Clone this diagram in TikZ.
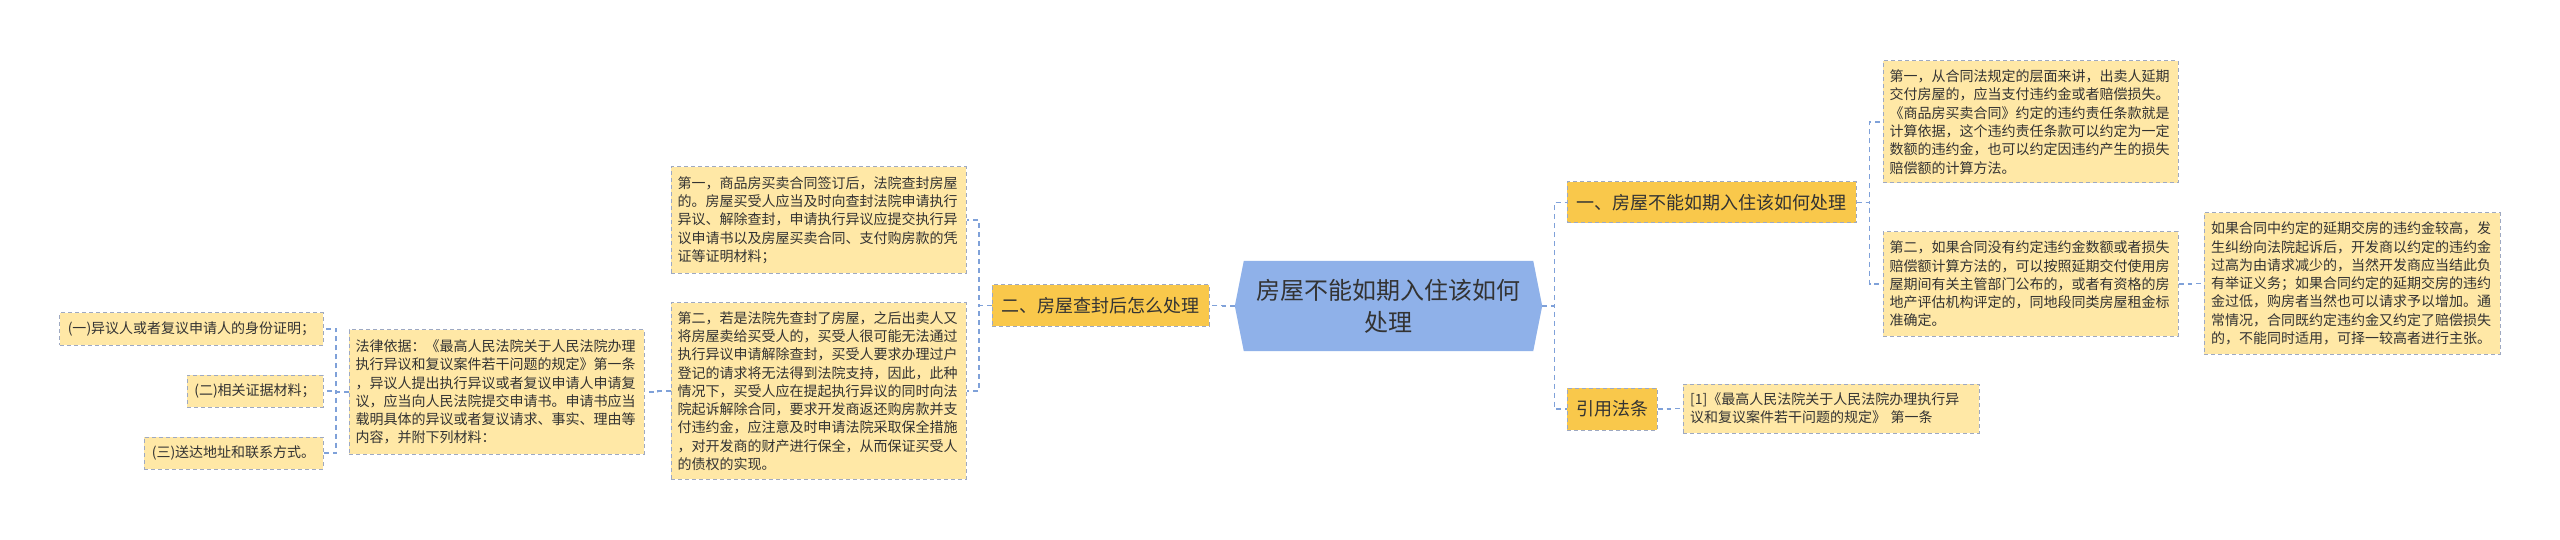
\documentclass[tikz,border=0pt]{standalone}
\usepackage{fontspec}
\setmainfont{Noto Sans CJK SC}
\usetikzlibrary{calc,backgrounds}
\definecolor{leafc}{HTML}{FFE8A6}
\definecolor{lvlc}{HTML}{F9C84B}
\definecolor{bordc}{HTML}{9EA9C2}
\definecolor{linec}{HTML}{7FA1D9}
\definecolor{rootc}{HTML}{8FB1E9}
\definecolor{txtc}{HTML}{333333}
\newcommand{\lelbow}[2]{\draw[conn] (#1.west) -| ($(#1.west)!0.5!(#2.east)$) |- (#2.east);}
\newcommand{\relbow}[2]{\draw[conn] (#1.east) -| ($(#1.east)!0.5!(#2.west)$) |- (#2.west);}
\begin{document}
\begin{tikzpicture}[x=1bp,y=-1bp,
  box/.style={draw=bordc, dash pattern=on 4bp off 3bp, line width=1bp, inner sep=0pt, text=txtc},
  leaf/.style={box, fill=leafc, align=left, font=\fontsize{14bp}{18.3bp}\selectfont},
  small/.style={box, fill=leafc, font=\fontsize{14bp}{18.3bp}\selectfont},
  lvl/.style={box, fill=lvlc, align=center, font=\fontsize{18bp}{22bp}\selectfont},
  conn/.style={draw=linec, dash pattern=on 5bp off 4bp, line width=1.3bp},
]
\useasboundingbox (0,0) rectangle (2560,540);

% root
\node[font=\fontsize{24bp}{32bp}\selectfont, align=center, text=txtc, minimum width=307bp, minimum height=90bp, inner sep=0pt] (root) at (1388.5,306) {房屋不能如期入住该如何\\处理};
\begin{scope}[on background layer]
\fill[white] (0,0) rectangle (2560,540);
\fill[rootc] (root.west) -- ([xshift=9bp]root.north west) -- ([xshift=-9bp]root.north east) -- (root.east) -- ([xshift=-9bp]root.south east) -- ([xshift=9bp]root.south west) -- cycle;
\end{scope}

% level 1
\node[lvl, minimum width=217bp, minimum height=41bp] (n2) at (1100.5,305.5) {二、房屋查封后怎么处理};
\node[lvl, minimum width=289bp, minimum height=41bp] (n1) at (1711.5,202.5) {一、房屋不能如期入住该如何处理};
\node[lvl, minimum width=90bp, minimum height=42bp] (n3) at (1612,409) {引用法条};

% right leaves
\node[leaf, minimum width=295bp, minimum height=122bp, text width=282bp] (r1) at (2030.5,122) {第一，从合同法规定的层面来讲，出卖人延期\\交付房屋的，应当支付违约金或者赔偿损失。\\《商品房买卖合同》约定的违约责任条款就是\\计算依据，这个违约责任条款可以约定为一定\\数额的违约金，也可以约定因违约产生的损失\\赔偿额的计算方法。};
\node[leaf, minimum width=295bp, minimum height=104bp, text width=282bp] (r2) at (2030.5,284) {第二，如果合同没有约定违约金数额或者损失\\赔偿额计算方法的，可以按照延期交付使用房\\屋期间有关主管部门公布的，或者有资格的房\\地产评估机构评定的，同地段同类房屋租金标\\准确定。};
\node[leaf, minimum width=296bp, minimum height=141bp, text width=282bp] (r3) at (2352,283.5) {如果合同中约定的延期交房的违约金较高，发\\生纠纷向法院起诉后，开发商以约定的违约金\\过高为由请求减少的，当然开发商应当结此负\\有举证义务；如果合同约定的延期交房的违约\\金过低，购房者当然也可以请求予以增加。通\\常情况，合同既约定违约金又约定了赔偿损失\\的，不能同时适用，可择一较高者进行主张。};
\node[leaf, minimum width=296bp, minimum height=49bp, text width=282bp] (ref) at (1831,408.5) {[1]《最高人民法院关于人民法院办理执行异\\议和复议案件若干问题的规定》 第一条};

% left leaves
\node[leaf, minimum width=295bp, minimum height=106bp, text width=282bp] (l1) at (818.5,220) {第一，商品房买卖合同签订后，法院查封房屋\\的。房屋买受人应当及时向查封法院申请执行\\异议、解除查封，申请执行异议应提交执行异\\议申请书以及房屋买卖合同、支付购房款的凭\\证等证明材料；};
\node[leaf, minimum width=295bp, minimum height=176bp, text width=282bp] (l2) at (818.5,391) {第二，若是法院先查封了房屋，之后出卖人又\\将房屋卖给买受人的，买受人很可能无法通过\\执行异议申请解除查封，买受人要求办理过户\\登记的请求将无法得到法院支持，因此，此种\\情况下，买受人应在提起执行异议的同时向法\\院起诉解除合同，要求开发商返还购房款并支\\付违约金，应注意及时申请法院采取保全措施\\，对开发商的财产进行保全，从而保证买受人\\的债权的实现。};
\node[leaf, minimum width=295bp, minimum height=124bp, text width=282bp] (law) at (496.5,392) {法律依据：《最高人民法院关于人民法院办理\\执行异议和复议案件若干问题的规定》第一条\\，异议人提出执行异议或者复议申请人申请复\\议，应当向人民法院提交申请书。申请书应当\\载明具体的异议或者复议请求、事实、理由等\\内容，并附下列材料：};
\node[small, minimum width=263bp, minimum height=32bp] (s1) at (191.5,329) {(一)异议人或者复议申请人的身份证明；};
\node[small, minimum width=136bp, minimum height=32bp] (s2) at (255,391) {(二)相关证据材料；};
\node[small, minimum width=179bp, minimum height=32bp] (s3) at (233.5,453) {(三)送达地址和联系方式。};

% connectors
\lelbow{root}{n2}
\lelbow{n2}{l1}
\lelbow{n2}{l2}
\lelbow{l2}{law}
\lelbow{law}{s1}
\lelbow{law}{s2}
\lelbow{law}{s3}
\relbow{root}{n1}
\relbow{root}{n3}
\relbow{n1}{r1}
\relbow{n1}{r2}
\relbow{r2}{r3}
\relbow{n3}{ref}
\end{tikzpicture}
\end{document}
